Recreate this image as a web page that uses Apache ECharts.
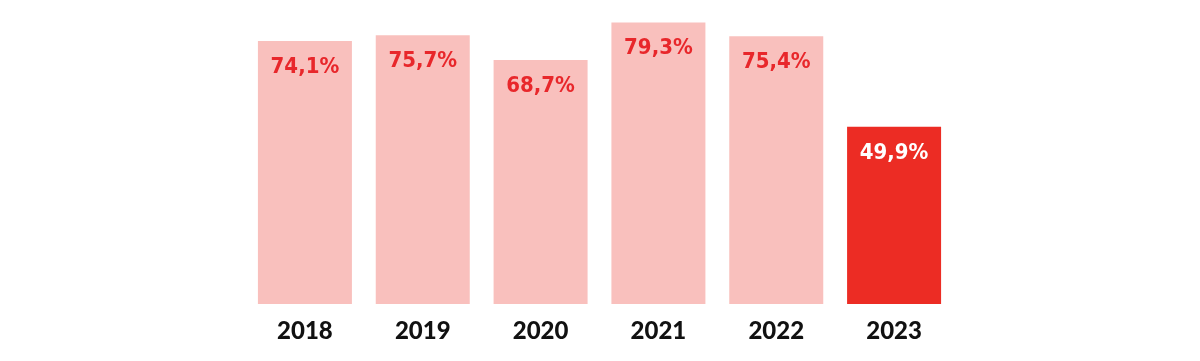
<!DOCTYPE html>
<html><head><meta charset="utf-8">
<script src="https://cdn.jsdelivr.net/npm/echarts@6/dist/echarts.min.js"></script>
<style>html,body{margin:0;padding:0;background:#fff}#c{width:1200px;height:361px}</style>
</head><body><div id="c"></div>
<script>
const categories = ['2018','2019','2020','2021','2022','2023'];
const values = [74.1, 75.7, 68.7, 79.3, 75.4, 49.9];
const labels = ['74,1%','75,7%','68,7%','79,3%','75,4%','49,9%'];
const highlight = [false,false,false,false,false,true];

const chart = echarts.init(document.getElementById('c'));
chart.setOption({
  animation: false,
  grid: {left: 246, right: 247, top: 20, bottom: 57},
  xAxis: {
    type: 'category', data: categories,
    axisLine: {show: false}, axisTick: {show: false},
    axisLabel: {color: '#111', fontFamily: 'Lato', fontWeight: 900, fontSize: 24, margin: 15}
  },
  yAxis: {type: 'value', min: 0, max: 80, show: false, splitLine: {show: false}},
  series: [{
    type: 'bar', barWidth: 94,
    data: values.map((v, i) => ({
      value: v,
      itemStyle: {color: highlight[i] ? '#ec2c24' : '#f9c0bd'},
      label: {color: highlight[i] ? '#ffffff' : '#e8272b'}
    })),
    label: {
      show: true, position: 'insideTop', distance: 15,
      fontFamily: '"DejaVu Sans Condensed"', fontWeight: 'bold', fontSize: 22,
      formatter: p => labels[p.dataIndex]
    }
  }]
});
</script></body></html>
